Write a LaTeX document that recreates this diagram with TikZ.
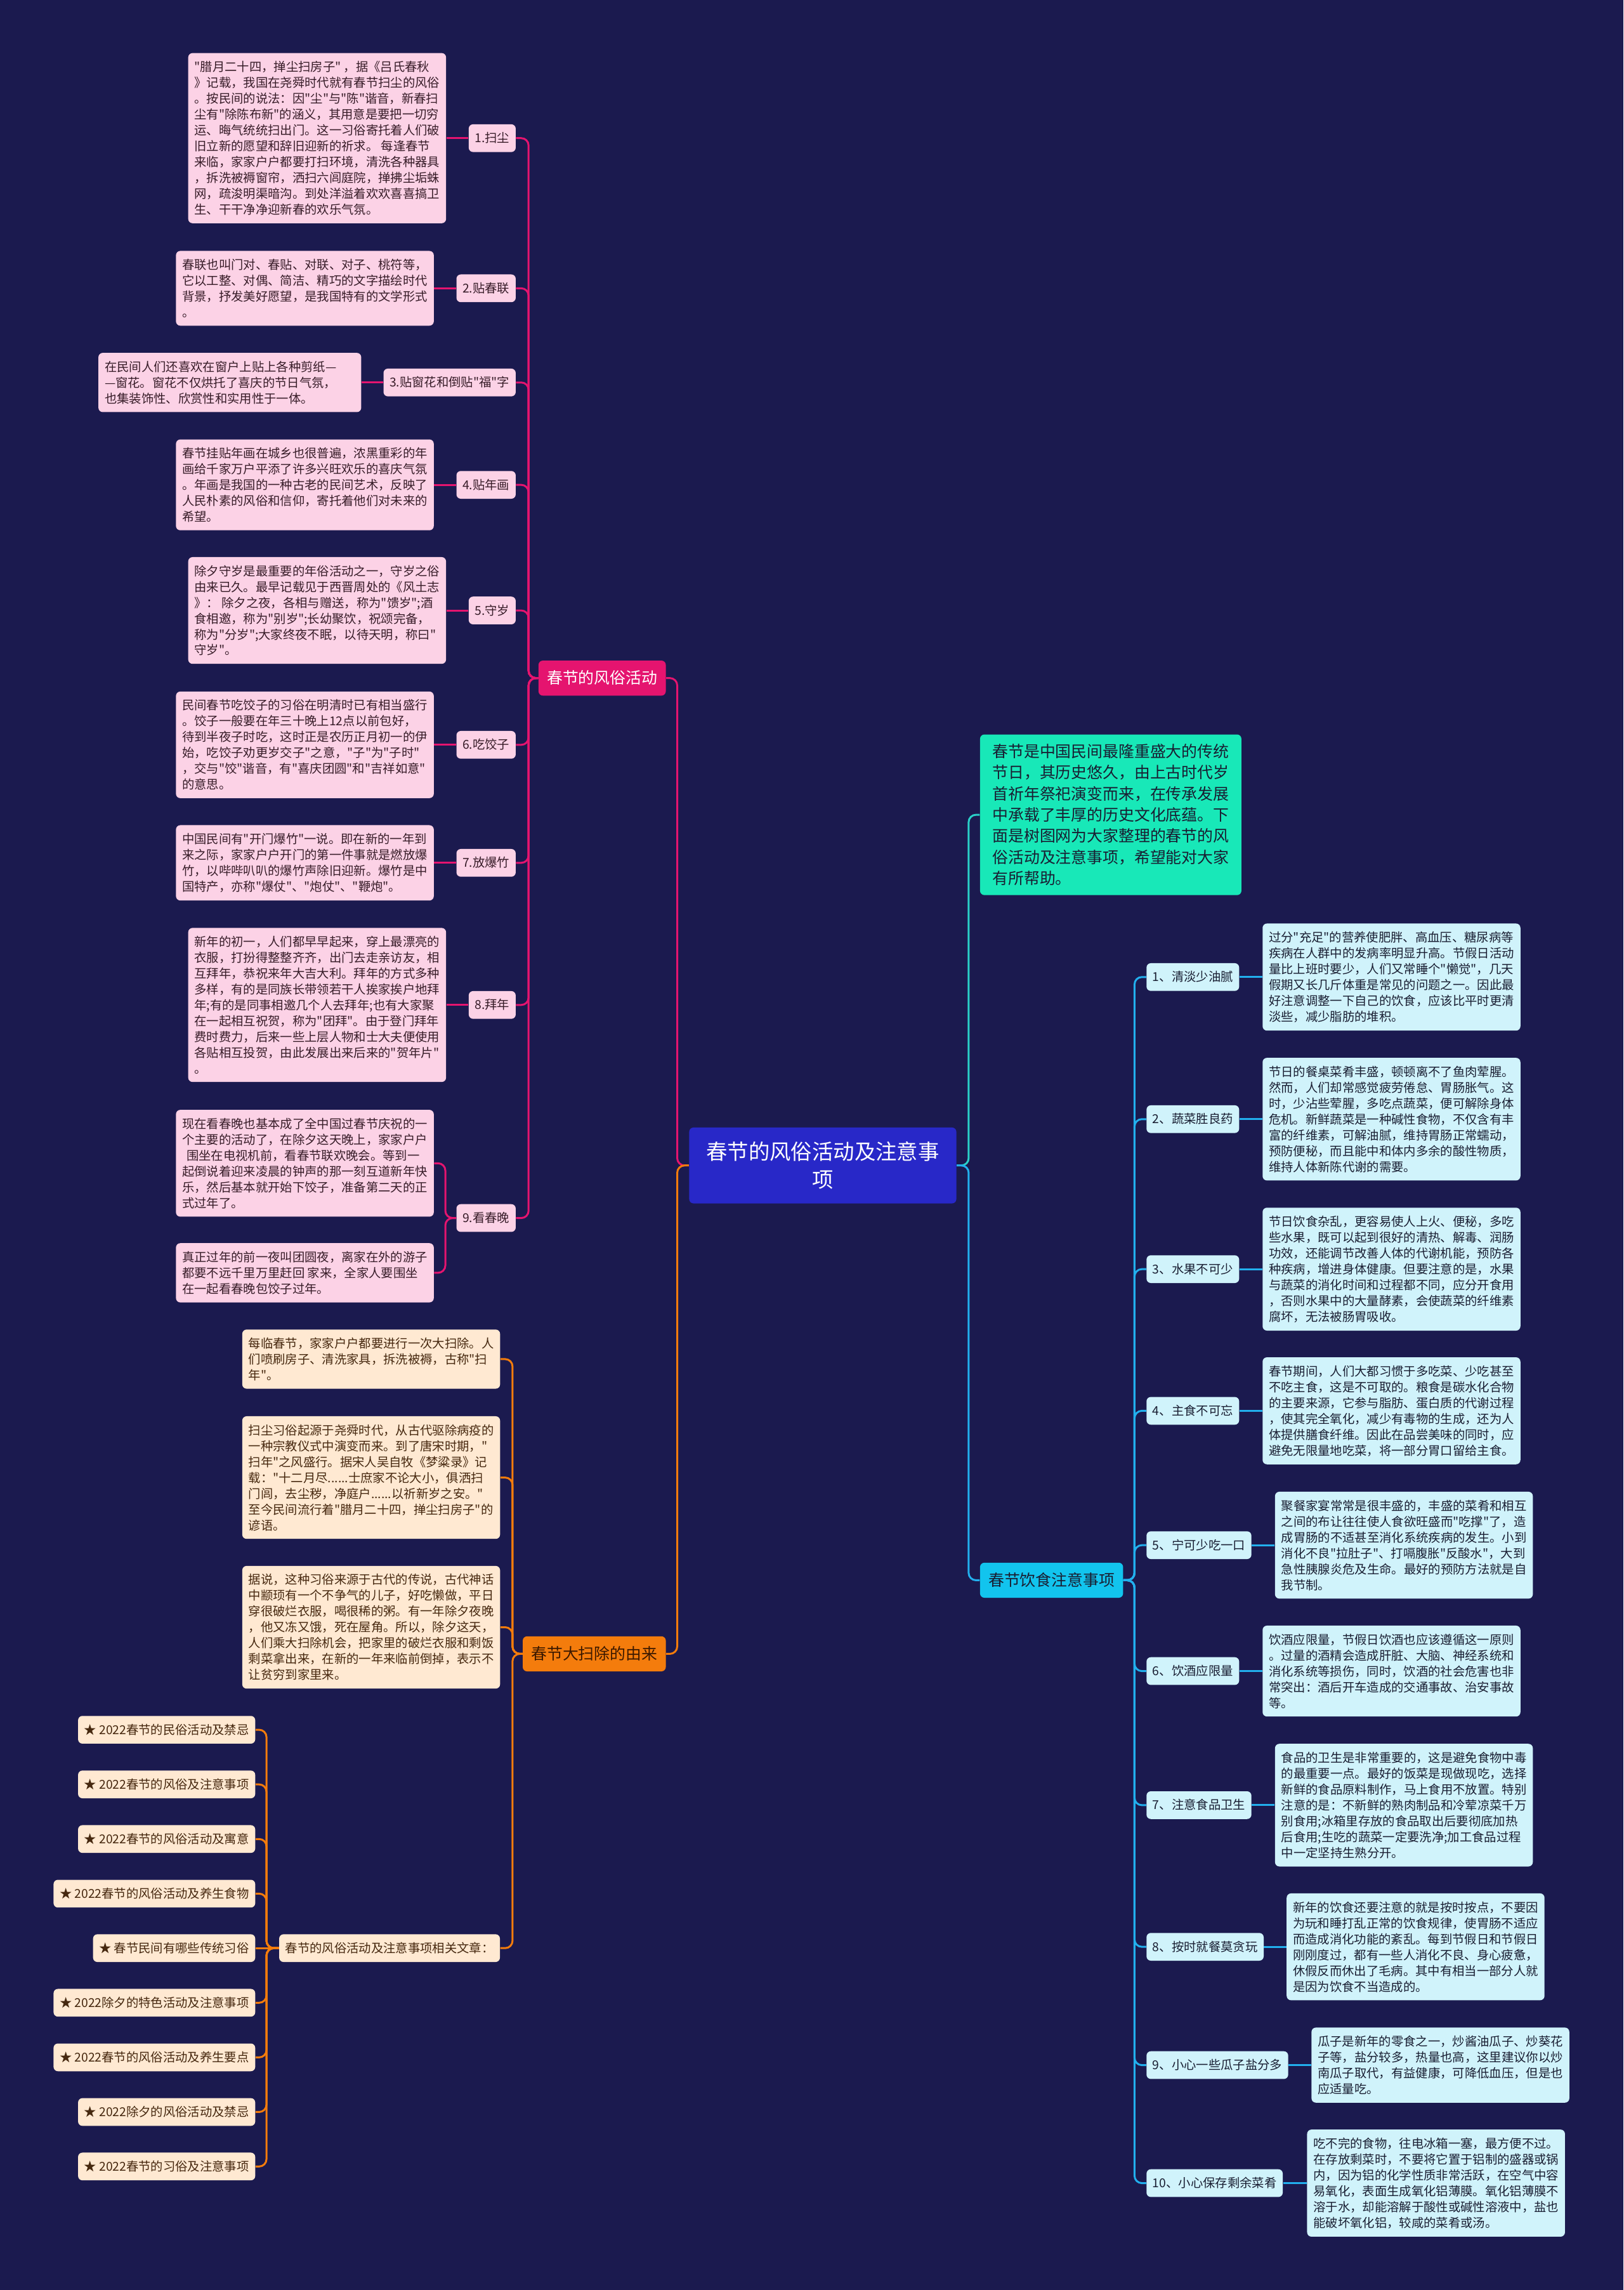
\documentclass[tikz,border=0pt]{standalone}
\usepackage{fontspec}
\setmainfont{Noto Sans CJK SC}[Ligatures=TeXOff]
\definecolor{bgc}{RGB}{27,26,79}
\definecolor{ctrc}{RGB}{40,40,200}
\definecolor{magc}{RGB}{229,20,111}
\definecolor{pinkf}{RGB}{252,210,230}
\definecolor{pinkt}{RGB}{55,28,40}
\definecolor{orgc}{RGB}{244,124,12}
\definecolor{orgt}{RGB}{60,25,0}
\definecolor{beigef}{RGB}{255,233,210}
\definecolor{beiget}{RGB}{70,40,15}
\definecolor{aquaf}{RGB}{24,232,184}
\definecolor{tealc}{RGB}{42,208,200}
\definecolor{skyf}{RGB}{18,196,238}
\definecolor{skyc}{RGB}{34,176,238}
\definecolor{cyanf}{RGB}{208,243,251}
\definecolor{darkt}{RGB}{25,30,50}
\newcommand\mmdet{\fontsize{8.4}{10.86}\selectfont}
\newcommand\mmlab{\fontsize{8.4}{10}\selectfont}
\newcommand\mmbr{\fontsize{10.8}{13}\selectfont}
\newcommand\mmintro{\fontsize{10.8}{14.5}\selectfont}
\newcommand\mmctr{\fontsize{14.5}{19}\selectfont}
\begin{document}
\begin{tikzpicture}[x=1pt,y=-1pt,
  box/.style={rounded corners=3pt},
  det/.style={box, align=left, inner xsep=4.3pt, inner ysep=5.5pt, font=\mmdet},
  lab/.style={box, inner xsep=4.2pt, inner ysep=0pt, minimum height=19pt, text height=7pt, text depth=1pt, font=\mmlab},
  br/.style={box, inner xsep=5.8pt, inner ysep=0pt, minimum height=24pt, text height=9pt, text depth=1.5pt, font=\mmbr},
  pdet/.style={det, fill=pinkf, text=pinkt},
  plab/.style={lab, fill=pinkf, text=pinkt},
  bdet/.style={det, fill=beigef, text=beiget},
  blab/.style={lab, fill=beigef, text=beiget},
  cdet/.style={det, fill=cyanf, text=darkt},
  clab/.style={lab, fill=cyanf, text=darkt},
  ln/.style={line width=1.3pt, rounded corners=5pt}
]
\fill[bgc] (0,0) rectangle (1112,1568);
\useasboundingbox (0,0) rectangle (1112,1568);

% bus coordinates
\coordinate (busLc) at (463.8,0);
\coordinate (busRc) at (663.4,0);
\coordinate (busM) at (362,0);
\coordinate (busNine) at (305,0);
\coordinate (busO) at (351,0);
\coordinate (busD) at (182.5,0);
\coordinate (busE) at (777,0);

% centre
\node[box, fill=ctrc, text=white, font=\mmctr, align=center, minimum width=183pt, minimum height=52pt, inner sep=0pt] (ctr) at (563.5,798) {春节的风俗活动及注意事\\项};

% main branches
\node[br, fill=magc, text=white, anchor=east] (bM1) at (456.2,464.3) {春节的风俗活动};
\node[br, fill=orgc, text=orgt, anchor=east] (bO1) at (456.2,1132.4) {春节大扫除的由来};
\node[br, fill=skyf, text=darkt, anchor=west] (bS1) at (671,1082) {春节饮食注意事项};
\node[box, fill=aquaf, text=darkt, font=\mmintro, align=left, inner xsep=8.5pt, inner ysep=6.5pt, anchor=west] (intro) at (671,557.9) {春节是中国民间最隆重盛大的传统\\节日，其历史悠久，由上古时代岁\\首祈年祭祀演变而来，在传承发展\\中承载了丰厚的历史文化底蕴。下\\面是树图网为大家整理的春节的风\\俗活动及注意事项，希望能对大家\\有所帮助。};

% left labels
\node[plab, anchor=east] (l1) at (353.4,94.6) {1.扫尘};
\node[plab, anchor=east] (l2) at (353.4,197.4) {2.贴春联};
\node[plab, anchor=east] (l3) at (353.4,261.9) {3.贴窗花和倒贴"福"字};
\node[plab, anchor=east] (l4) at (353.4,332) {4.贴年画};
\node[plab, anchor=east] (l5) at (353.4,418) {5.守岁};
\node[plab, anchor=east] (l6) at (353.4,510) {6.吃饺子};
\node[plab, anchor=east] (l7) at (353.4,590.8) {7.放爆竹};
\node[plab, anchor=east] (l8) at (353.4,688.1) {8.拜年};
\node[plab, anchor=east] (l9) at (353.4,834) {9.看春晚};

% left details
\node[pdet, anchor=east] (d1) at (305.7,94.6) {"腊月二十四，掸尘扫房子" ，据《吕氏春秋\\》记载，我国在尧舜时代就有春节扫尘的风俗\\。按民间的说法：因"尘"与"陈"谐音，新春扫\\尘有"除陈布新"的涵义，其用意是要把一切穷\\运、晦气统统扫出门。这一习俗寄托着人们破\\旧立新的愿望和辞旧迎新的祈求。 每逢春节\\来临，家家户户都要打扫环境，清洗各种器具\\，拆洗被褥窗帘，洒扫六闾庭院，掸拂尘垢蛛\\网，疏浚明渠暗沟。到处洋溢着欢欢喜喜搞卫\\生、干干净净迎新春的欢乐气氛。};
\node[pdet, anchor=east] (d2) at (297.3,197.4) {春联也叫门对、春贴、对联、对子、桃符等，\\它以工整、对偶、简洁、精巧的文字描绘时代\\背景，抒发美好愿望，是我国特有的文学形式\\。};
\node[pdet, anchor=east, text width=171.4pt] (d3) at (247.6,261.9) {在民间人们还喜欢在窗户上贴上各种剪纸—\\—窗花。窗花不仅烘托了喜庆的节日气氛，\\也集装饰性、欣赏性和实用性于一体。};
\node[pdet, anchor=east] (d4) at (297.3,332) {春节挂贴年画在城乡也很普遍，浓黑重彩的年\\画给千家万户平添了许多兴旺欢乐的喜庆气氛\\。年画是我国的一种古老的民间艺术，反映了\\人民朴素的风俗和信仰，寄托着他们对未来的\\希望。};
\node[pdet, anchor=east] (d5) at (305.7,418) {除夕守岁是最重要的年俗活动之一，守岁之俗\\由来已久。最早记载见于西晋周处的《风土志\\》： 除夕之夜，各相与赠送，称为"馈岁";酒\\食相邀，称为"别岁";长幼聚饮，祝颂完备，\\称为"分岁";大家终夜不眠，以待天明，称曰"\\守岁"。};
\node[pdet, anchor=east] (d6) at (297.3,510) {民间春节吃饺子的习俗在明清时已有相当盛行\\。饺子一般要在年三十晚上12点以前包好，\\待到半夜子时吃，这时正是农历正月初一的伊\\始，吃饺子劝更岁交子"之意，"子"为"子时"\\，交与"饺"谐音，有"喜庆团圆"和"吉祥如意"\\的意思。};
\node[pdet, anchor=east] (d7) at (297.3,590.8) {中国民间有"开门爆竹"一说。即在新的一年到\\来之际，家家户户开门的第一件事就是燃放爆\\竹，以哔哔叭叭的爆竹声除旧迎新。爆竹是中\\国特产，亦称"爆仗"、"炮仗"、"鞭炮"。};
\node[pdet, anchor=east] (d8) at (305.7,688.1) {新年的初一，人们都早早起来，穿上最漂亮的\\衣服，打扮得整整齐齐，出门去走亲访友，相\\互拜年，恭祝来年大吉大利。拜年的方式多种\\多样，有的是同族长带领若干人挨家挨户地拜\\年;有的是同事相邀几个人去拜年;也有大家聚\\在一起相互祝贺，称为"团拜"。由于登门拜年\\费时费力，后来一些上层人物和士大夫便使用\\各贴相互投贺，由此发展出来后来的"贺年片"\\。};
\node[pdet, anchor=east] (d9a) at (297.3,796.5) {现在看春晚也基本成了全中国过春节庆祝的一\\个主要的活动了，在除夕这天晚上，家家户户\\\hspace*{3pt}围坐在电视机前，看春节联欢晚会。等到一\\起倒说着迎来凌晨的钟声的那一刻互道新年快\\乐，然后基本就开始下饺子，准备第二天的正\\式过年了。};
\node[pdet, anchor=east] (d9b) at (297.3,871.5) {真正过年的前一夜叫团圆夜，离家在外的游子\\都要不远千里万里赶回 家来，全家人要围坐\\在一起看春晚包饺子过年。};

% orange branch details
\node[bdet, anchor=east] (oA) at (342.7,930.6) {每临春节，家家户户都要进行一次大扫除。人\\们喷刷房子、清洗家具，拆洗被褥，古称"扫\\年"。};
\node[bdet, anchor=east] (oB) at (342.7,1011.7) {扫尘习俗起源于尧舜时代，从古代驱除病疫的\\一种宗教仪式中演变而来。到了唐宋时期，"\\扫年"之风盛行。据宋人吴自牧《梦粱录》记\\载："十二月尽......士庶家不论大小，俱洒扫\\门闾，去尘秽，净庭户......以祈新岁之安。"\\至今民间流行着"腊月二十四，掸尘扫房子"的\\谚语。};
\node[bdet, anchor=east] (oC) at (342.7,1114.2) {据说，这种习俗来源于古代的传说，古代神话\\中颛顼有一个不争气的儿子，好吃懒做，平日\\穿很破烂衣服，喝很稀的粥。有一年除夕夜晚\\，他又冻又饿，死在屋角。所以，除夕这天，\\人们乘大扫除机会，把家里的破烂衣服和剩饭\\剩菜拿出来，在新的一年来临前倒掉，表示不\\让贫穷到家里来。};
\node[blab, anchor=west] (rel) at (191,1333.9) {春节的风俗活动及注意事项相关文章：};

% related articles
\node[blab, anchor=east] (i1) at (175,1184.4) {★ 2022春节的民俗活动及禁忌};
\node[blab, anchor=east] (i2) at (175,1221.8) {★ 2022春节的风俗及注意事项};
\node[blab, anchor=east] (i3) at (175,1259.2) {★ 2022春节的风俗活动及寓意};
\node[blab, anchor=east] (i4) at (175,1296.6) {★ 2022春节的风俗活动及养生食物};
\node[blab, anchor=east] (i5) at (175,1333.9) {★ 春节民间有哪些传统习俗};
\node[blab, anchor=east] (i6) at (175,1371.3) {★ 2022除夕的特色活动及注意事项};
\node[blab, anchor=east] (i7) at (175,1408.7) {★ 2022春节的风俗活动及养生要点};
\node[blab, anchor=east] (i8) at (175,1446.1) {★ 2022除夕的风俗活动及禁忌};
\node[blab, anchor=east] (i9) at (175,1483.4) {★ 2022春节的习俗及注意事项};

% right labels
\node[clab, anchor=west] (rl1) at (785,669) {1、清淡少油腻};
\node[clab, anchor=west] (rl2) at (785,766.3) {2、蔬菜胜良药};
\node[clab, anchor=west] (rl3) at (785,869) {3、水果不可少};
\node[clab, anchor=west] (rl4) at (785,966) {4、主食不可忘};
\node[clab, anchor=west] (rl5) at (785,1058) {5、宁可少吃一口};
\node[clab, anchor=west] (rl6) at (785,1144.2) {6、饮酒应限量};
\node[clab, anchor=west] (rl7) at (785,1236) {7、注意食品卫生};
\node[clab, anchor=west] (rl8) at (785,1333) {8、按时就餐莫贪玩};
\node[clab, anchor=west] (rl9) at (785,1414) {9、小心一些瓜子盐分多};
\node[clab, anchor=west] (rl10) at (785,1494.8) {10、小心保存剩余菜肴};

% right details
\node[cdet, anchor=west] (r1) at (864.5,669) {过分"充足"的营养使肥胖、高血压、糖尿病等\\疾病在人群中的发病率明显升高。节假日活动\\量比上班时要少，人们又常睡个"懒觉"，几天\\假期又长几斤体重是常见的问题之一。因此最\\好注意调整一下自己的饮食，应该比平时更清\\淡些，减少脂肪的堆积。};
\node[cdet, anchor=west] (r2) at (864.5,766.3) {节日的餐桌菜肴丰盛，顿顿离不了鱼肉荤腥。\\然而，人们却常感觉疲劳倦怠、胃肠胀气。这\\时，少沾些荤腥，多吃点蔬菜，便可解除身体\\危机。新鲜蔬菜是一种碱性食物，不仅含有丰\\富的纤维素，可解油腻，维持胃肠正常蠕动，\\预防便秘，而且能中和体内多余的酸性物质，\\维持人体新陈代谢的需要。};
\node[cdet, anchor=west] (r3) at (864.5,869) {节日饮食杂乱，更容易使人上火、便秘，多吃\\些水果，既可以起到很好的清热、解毒、润肠\\功效，还能调节改善人体的代谢机能，预防各\\种疾病，增进身体健康。但要注意的是，水果\\与蔬菜的消化时间和过程都不同，应分开食用\\，否则水果中的大量酵素，会使蔬菜的纤维素\\腐坏，无法被肠胃吸收。};
\node[cdet, anchor=west] (r4) at (864.5,966) {春节期间，人们大都习惯于多吃菜、少吃甚至\\不吃主食，这是不可取的。粮食是碳水化合物\\的主要来源，它参与脂肪、蛋白质的代谢过程\\，使其完全氧化，减少有毒物的生成，还为人\\体提供膳食纤维。因此在品尝美味的同时，应\\避免无限量地吃菜，将一部分胃口留给主食。};
\node[cdet, anchor=west] (r5) at (873,1058) {聚餐家宴常常是很丰盛的，丰盛的菜肴和相互\\之间的布让往往使人食欲旺盛而"吃撑"了，造\\成胃肠的不适甚至消化系统疾病的发生。小到\\消化不良"拉肚子"、打嗝腹胀"反酸水"，大到\\急性胰腺炎危及生命。最好的预防方法就是自\\我节制。};
\node[cdet, anchor=west] (r6) at (864.5,1144.2) {饮酒应限量，节假日饮酒也应该遵循这一原则\\。过量的酒精会造成肝脏、大脑、神经系统和\\消化系统等损伤，同时，饮酒的社会危害也非\\常突出：酒后开车造成的交通事故、治安事故\\等。};
\node[cdet, anchor=west] (r7) at (873,1236) {食品的卫生是非常重要的，这是避免食物中毒\\的最重要一点。最好的饭菜是现做现吃，选择\\新鲜的食品原料制作，马上食用不放置。特别\\注意的是：不新鲜的熟肉制品和冷荤凉菜千万\\别食用;冰箱里存放的食品取出后要彻底加热\\后食用;生吃的蔬菜一定要洗净;加工食品过程\\中一定坚持生熟分开。};
\node[cdet, anchor=west] (r8) at (881,1333) {新年的饮食还要注意的就是按时按点，不要因\\为玩和睡打乱正常的饮食规律，使胃肠不适应\\而造成消化功能的紊乱。每到节假日和节假日\\刚刚度过，都有一些人消化不良、身心疲惫，\\休假反而休出了毛病。其中有相当一部分人就\\是因为饮食不当造成的。};
\node[cdet, anchor=west] (r9) at (898,1414) {瓜子是新年的零食之一，炒酱油瓜子、炒葵花\\子等，盐分较多，热量也高，这里建议你以炒\\南瓜子取代，有益健康，可降低血压，但是也\\应适量吃。};
\node[cdet, anchor=west] (r10) at (895,1494.8) {吃不完的食物，往电冰箱一塞，最方便不过。\\在存放剩菜时，不要将它置于铝制的盛器或锅\\内，因为铝的化学性质非常活跃，在空气中容\\易氧化，表面生成氧化铝薄膜。氧化铝薄膜不\\溶于水，却能溶解于酸性或碱性溶液中，盐也\\能破坏氧化铝，较咸的菜肴或汤。};

% ---------- connectors ----------
% magenta branch
\foreach \n in {l1,l2,l3,l4,l5,l6,l7,l8,l9}
  \draw[ln, magc] (bM1.west) -- (bM1.west -| busM) |- (\n.east);
\foreach \a/\b in {l1/d1,l2/d2,l3/d3,l4/d4,l5/d5,l6/d6,l7/d7,l8/d8}
  \draw[ln, magc] (\a.west) -- (\b.east);
\draw[ln, magc] (l9.west) -- (l9.west -| busNine) |- (d9a.east);
\draw[ln, magc] (l9.west) -- (l9.west -| busNine) |- (d9b.east);
% orange branch
\foreach \n in {oA,oB,oC,rel}
  \draw[ln, orgc] (bO1.west) -- (bO1.west -| busO) |- (\n.east);
\foreach \n in {i1,i2,i3,i4,i6,i7,i8,i9}
  \draw[ln, orgc] (rel.west) -- (rel.west -| busD) |- (\n.east);
\draw[ln, orgc] (rel.west) -- (i5.east);
% centre left
\draw[ln, magc] (ctr.west) -- (ctr.west -| busLc) |- (bM1.east);
\draw[ln, orgc] (ctr.west) -- (ctr.west -| busLc) |- (bO1.east);
% centre right
\draw[ln, tealc] (ctr.east) -- (ctr.east -| busRc) |- (intro.west);
\draw[ln, skyc] (ctr.east) -- (ctr.east -| busRc) |- (bS1.west);
% sky branch
\foreach \n in {rl1,rl2,rl3,rl4,rl5,rl6,rl7,rl8,rl9,rl10}
  \draw[ln, skyc] (bS1.east) -- (bS1.east -| busE) |- (\n.west);
\foreach \a/\b in {rl1/r1,rl2/r2,rl3/r3,rl4/r4,rl5/r5,rl6/r6,rl7/r7,rl8/r8,rl9/r9,rl10/r10}
  \draw[ln, skyc] (\a.east) -- (\b.west);
\end{tikzpicture}
\end{document}
